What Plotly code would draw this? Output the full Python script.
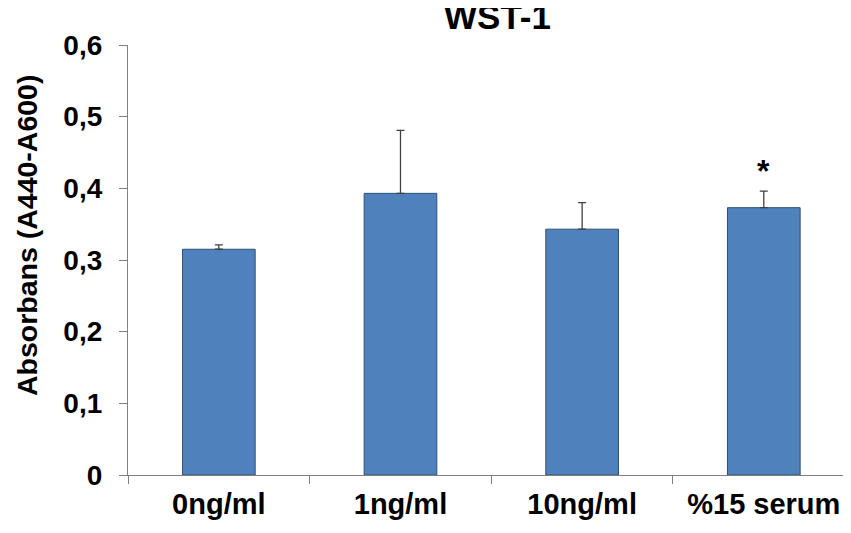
import plotly.graph_objects as go

categories = ["0ng/ml", "1ng/ml", "10ng/ml", "%15 serum"]
values = [0.315, 0.393, 0.343, 0.373]
errors = [0.006, 0.088, 0.037, 0.023]
marks = ["", "", "", "*"]
y_tickvals = [0, 0.1, 0.2, 0.3, 0.4, 0.5, 0.6]
y_ticktext = ["0", "0,1", "0,2", "0,3", "0,4", "0,5", "0,6"]

FONT = "Liberation Sans, Arial, sans-serif"
# page body adds an 8px offset, so the figure is drawn 8px smaller
W, H = 843, 525

fig = go.Figure()
fig.add_trace(go.Bar(
    x=categories, y=values, width=0.4,
    marker=dict(color="#4F81BD", line=dict(color="#2F4F75", width=1)),
    error_y=dict(type="data", array=errors, arrayminus=[0]*len(errors),
                 symmetric=False, color="#404040", thickness=1.3, width=4),
))

for c, v, e, m in zip(categories, values, errors, marks):
    if m:
        fig.add_annotation(x=c, y=v + e, text="<b>%s</b>" % m, showarrow=False,
                           yanchor="bottom", yshift=0,
                           font=dict(family=FONT, size=32, color="black"))

fig.add_annotation(xref="paper", yref="paper", x=(19 - 120) / 723, y=0.558,
                   text="<b>Absorbans (A440-A600)</b>", textangle=-90,
                   showarrow=False, xanchor="center", yanchor="middle",
                   font=dict(family=FONT, size=28.5, color="black"))

fig.update_layout(
    width=W, height=H,
    margin=dict(l=120, r=0, t=37, b=58),
    paper_bgcolor="white", plot_bgcolor="white",
    showlegend=False,
    title=dict(text="<b>WST-1</b>", x=489.5 / W, xanchor="center", xref="container",
               y=1 - 9 / H, yref="container", yanchor="middle",
               font=dict(family=FONT, size=35, color="black")),
    font=dict(family=FONT, color="black"),
)
fig.update_xaxes(
    type="category", range=[-0.5, 3.48], automargin=False,
    showline=True, linecolor="#808080", linewidth=1.3,
    ticks="outside", tickson="boundaries", ticklen=8, tickcolor="#808080",
    ticklabelstandoff=3,
    tickfont=dict(family=FONT, size=29, color="black"),
    tickprefix="<b>", ticksuffix="</b>",
    showgrid=False, zeroline=False,
)
fig.update_yaxes(
    range=[0, 0.6], tickvals=y_tickvals, ticktext=["<b>%s</b>" % t for t in y_ticktext],
    automargin=False,
    showline=True, linecolor="#808080", linewidth=1.3,
    ticks="outside", ticklen=8, tickcolor="#808080", ticklabelstandoff=11,
    tickfont=dict(family=FONT, size=28, color="black"),
    showgrid=False, zeroline=False,
)

fig.write_html("out.html")
